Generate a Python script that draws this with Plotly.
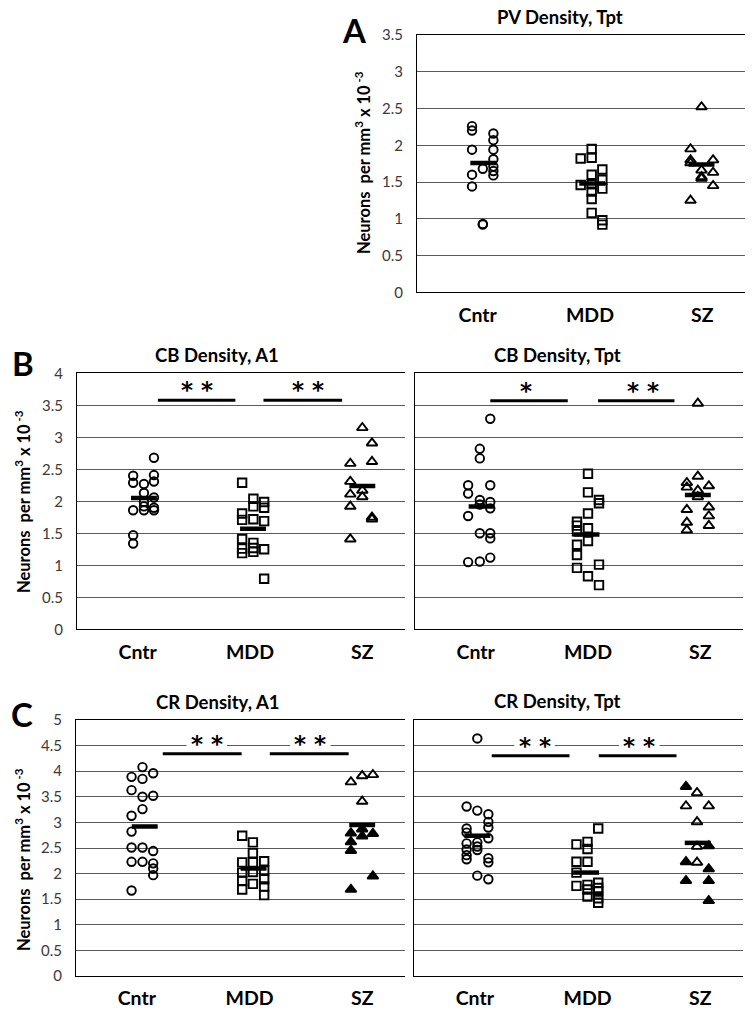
import plotly.graph_objects as go

categories = ["Cntr", "MDD", "SZ"]

# ---------------- Panel A : PV density, Tpt ----------------
pv_tpt_cntr = [2.26, 2.20, 1.94, 1.60, 1.44, 2.16, 2.07, 1.94, 1.81, 1.71, 1.65, 1.59, 1.68, 0.93, 0.92]
pv_tpt_cntr_jit = [-0.05, -0.05, -0.05, -0.05, -0.05, 0.14, 0.14, 0.14, 0.14, 0.14, 0.14, 0.14, 0.046, 0.046, 0.046]
pv_tpt_mdd = [1.82, 1.46, 1.95, 1.83, 1.60, 1.47, 1.37, 1.27, 1.08, 1.67, 1.53, 1.41, 0.98, 0.92]
pv_tpt_mdd_jit = [-0.083, -0.083, 0.015, 0.015, 0.015, 0.015, 0.015, 0.015, 0.015, 0.11, 0.11, 0.11, 0.11, 0.11]
pv_tpt_sz = [1.95, 1.80, 1.76, 1.25, 2.52, 1.66, 1.57, 1.55, 1.80, 1.63, 1.45]
pv_tpt_sz_jit = [-0.105, -0.105, -0.105, -0.105, -0.007, -0.007, -0.007, -0.007, 0.096, 0.096, 0.096]
pv_tpt_means = [1.76, 1.48, 1.74]
pv_tpt_means_jit = [0.05, 0.02, -0.007]

# ---------------- Panel B : CB density, A1 ----------------
cb_a1_cntr = [2.40, 2.29, 1.86, 1.47, 1.34, 2.27, 2.13, 1.99, 1.92, 1.86, 2.68, 2.41, 2.31, 2.06, 1.90, 1.86]
cb_a1_cntr_jit = [-0.04, -0.04, -0.04, -0.04, -0.04, 0.056, 0.056, 0.056, 0.056, 0.056, 0.145, 0.145, 0.145, 0.145, 0.145, 0.145]
cb_a1_mdd = [2.29, 1.81, 1.71, 1.41, 1.26, 1.19, 2.04, 1.92, 1.72, 1.35, 1.27, 1.21, 1.99, 1.90, 1.69, 1.25, 0.79]
cb_a1_mdd_jit = [-0.07, -0.07, -0.07, -0.07, -0.07, -0.07, 0.03, 0.03, 0.03, 0.03, 0.03, 0.03, 0.126, 0.126, 0.126, 0.126, 0.126]
cb_a1_sz = [2.59, 2.31, 2.11, 1.92, 1.41, 3.15, 2.17, 2.07, 2.91, 2.62, 1.75, 1.72]
cb_a1_sz_jit = [-0.107, -0.107, -0.107, -0.107, -0.107, 0.0, 0.0, 0.0, 0.086, 0.086, 0.086, 0.086]
cb_a1_means = [2.05, 1.57, 2.24]
cb_a1_means_jit = [0.056, 0.027, 0.0]

# ---------------- Panel B : CB density, Tpt ----------------
cb_tpt_cntr = [2.25, 2.12, 1.77, 1.05, 2.82, 2.67, 2.02, 1.95, 1.50, 1.06, 3.29, 2.25, 1.99, 1.89, 1.50, 1.42, 1.12]
cb_tpt_cntr_jit = [-0.067, -0.067, -0.067, -0.067, 0.037, 0.037, 0.037, 0.037, 0.037, 0.037, 0.13, 0.13, 0.13, 0.13, 0.13, 0.13, 0.13]
cb_tpt_mdd = [1.68, 1.62, 1.53, 1.32, 1.16, 0.96, 2.43, 2.14, 1.81, 1.58, 1.38, 0.83, 2.02, 1.97, 1.01, 0.69]
cb_tpt_mdd_jit = [-0.098, -0.098, -0.098, -0.098, -0.098, -0.098, 0.0, 0.0, 0.0, 0.0, 0.0, 0.0, 0.098, 0.098, 0.098, 0.098]
cb_tpt_sz = [2.29, 2.22, 1.87, 1.67, 1.55, 3.53, 2.39, 2.17, 2.07, 2.24, 1.91, 1.77, 1.62]
cb_tpt_sz_jit = [-0.12, -0.12, -0.12, -0.12, -0.12, -0.022, -0.022, -0.022, -0.022, 0.076, 0.076, 0.076, 0.076]
cb_tpt_means = [1.92, 1.48, 2.10]
cb_tpt_means_jit = [0.053, -0.013, -0.022]

# ---------------- Panel C : CR density, A1 ----------------
cr_a1_cntr = [3.89, 3.63, 3.13, 2.82, 2.51, 2.23, 1.67, 4.08, 3.85, 3.50, 3.26, 2.51, 2.23, 3.96, 3.52, 2.44, 2.20, 2.10, 1.97]
cr_a1_cntr_jit = [-0.047, -0.047, -0.047, -0.047, -0.047, -0.047, -0.047, 0.05, 0.05, 0.05, 0.05, 0.05, 0.05, 0.145, 0.145, 0.145, 0.145, 0.145, 0.145]
cr_a1_mdd = [2.74, 2.22, 2.02, 1.86, 1.69, 2.61, 2.40, 2.22, 2.03, 1.80, 2.24, 2.06, 1.89, 1.75, 1.58]
cr_a1_mdd_jit = [-0.065, -0.065, -0.065, -0.065, -0.065, 0.03, 0.03, 0.03, 0.03, 0.03, 0.13, 0.13, 0.13, 0.13, 0.13]
cr_a1_sz_open = [3.79, 3.91, 3.41, 3.93]
cr_a1_sz_open_jit = [-0.10, 0.0, 0.0, 0.095]
cr_a1_sz_filled = [2.79, 2.62, 2.45, 1.69, 2.87, 2.73, 2.78, 1.95]
cr_a1_sz_filled_jit = [-0.10, -0.10, -0.10, -0.10, 0.0, 0.0, 0.095, 0.095]
cr_a1_means = [2.92, 2.10, 2.95]
cr_a1_means_jit = [0.07, 0.036, 0.0]

# ---------------- Panel C : CR density, Tpt ----------------
cr_tpt_cntr = [3.31, 2.88, 2.80, 2.59, 2.47, 2.36, 2.28, 4.64, 3.23, 2.61, 2.53, 2.46, 1.96, 3.16, 3.01, 2.90, 2.69, 2.30, 2.22, 1.89]
cr_tpt_cntr_jit = [-0.073, -0.073, -0.073, -0.073, -0.073, -0.073, -0.073, 0.022, 0.022, 0.022, 0.022, 0.022, 0.022, 0.12, 0.12, 0.12, 0.12, 0.12, 0.12, 0.12]
cr_tpt_mdd = [2.57, 2.23, 2.02, 1.76, 2.62, 2.48, 2.23, 1.78, 1.69, 1.55, 2.88, 1.82, 1.72, 1.65, 1.52, 1.43]
cr_tpt_mdd_jit = [-0.098, -0.098, -0.098, -0.098, 0.0, 0.0, 0.0, 0.0, 0.0, 0.0, 0.095, 0.095, 0.095, 0.095, 0.095, 0.095]
cr_tpt_sz_open = [3.32, 3.58, 3.01, 2.53, 2.22, 3.32]
cr_tpt_sz_open_jit = [-0.126, -0.028, -0.028, -0.028, -0.028, 0.076]
cr_tpt_sz_filled = [3.70, 2.23, 1.86, 2.54, 2.09, 1.86, 1.47]
cr_tpt_sz_filled_jit = [-0.126, -0.126, -0.126, 0.076, 0.076, 0.076, 0.076]
cr_tpt_means = [2.74, 2.02, 2.60]
cr_tpt_means_jit = [0.022, -0.013, -0.022]

# significance bars: (x_start, x_end, y, label_x, label)
sig_cb_a1 = [(0.18, 0.87, 3.58, 0.53, "* *"), (1.12, 1.82, 3.58, 1.52, "* *")]
sig_cb_tpt = [(0.13, 0.82, 3.57, 0.45, "*"), (1.09, 1.77, 3.57, 1.49, "* *")]
sig_cr_a1 = [(0.23, 0.93, 4.34, 0.62, "* *"), (1.18, 1.88, 4.34, 1.54, "* *")]
sig_cr_tpt = [(0.15, 0.84, 4.30, 0.53, "* *"), (1.10, 1.79, 4.30, 1.46, "* *")]

# ---------------------------------------------------------------
W, H = 755, 1016
FONT = "Lato"


def px(x):
    return x / W


def py(y):
    return 1 - y / H


panels = [
    dict(title="PV Density, Tpt", tpos=(560, 17), xd=(417, 745), yd=(35, 292.3), ymax=3.5, ylab=True,
         groups=[(0, pv_tpt_cntr, pv_tpt_cntr_jit, "circle-open"),
                 (1, pv_tpt_mdd, pv_tpt_mdd_jit, "square-open"),
                 (2, pv_tpt_sz, pv_tpt_sz_jit, "triangle-up-open")],
         means=pv_tpt_means, mjit=pv_tpt_means_jit, sig=[], sig_bg=False),
    dict(title="CB Density, A1", tpos=(217, 355), xd=(77, 405), yd=(373.3, 629.3), ymax=4, ylab=True,
         groups=[(0, cb_a1_cntr, cb_a1_cntr_jit, "circle-open"),
                 (1, cb_a1_mdd, cb_a1_mdd_jit, "square-open"),
                 (2, cb_a1_sz, cb_a1_sz_jit, "triangle-up-open")],
         means=cb_a1_means, mjit=cb_a1_means_jit, sig=sig_cb_a1, sig_bg=False),
    dict(title="CB Density, Tpt", tpos=(557, 355), xd=(415, 743), yd=(373.3, 629.3), ymax=4, ylab=False,
         groups=[(0, cb_tpt_cntr, cb_tpt_cntr_jit, "circle-open"),
                 (1, cb_tpt_mdd, cb_tpt_mdd_jit, "square-open"),
                 (2, cb_tpt_sz, cb_tpt_sz_jit, "triangle-up-open")],
         means=cb_tpt_means, mjit=cb_tpt_means_jit, sig=sig_cb_tpt, sig_bg=False),
    dict(title="CR Density, A1", tpos=(217, 702), xd=(76, 405), yd=(720, 976), ymax=5, ylab=True,
         groups=[(0, cr_a1_cntr, cr_a1_cntr_jit, "circle-open"),
                 (1, cr_a1_mdd, cr_a1_mdd_jit, "square-open"),
                 (2, cr_a1_sz_open, cr_a1_sz_open_jit, "triangle-up-open"),
                 (2, cr_a1_sz_filled, cr_a1_sz_filled_jit, "triangle-up")],
         means=cr_a1_means, mjit=cr_a1_means_jit, sig=sig_cr_a1, sig_bg=True),
    dict(title="CR Density, Tpt", tpos=(557, 701), xd=(414, 743), yd=(720, 976), ymax=5, ylab=False,
         groups=[(0, cr_tpt_cntr, cr_tpt_cntr_jit, "circle-open"),
                 (1, cr_tpt_mdd, cr_tpt_mdd_jit, "square-open"),
                 (2, cr_tpt_sz_open, cr_tpt_sz_open_jit, "triangle-up-open"),
                 (2, cr_tpt_sz_filled, cr_tpt_sz_filled_jit, "triangle-up")],
         means=cr_tpt_means, mjit=cr_tpt_means_jit, sig=sig_cr_tpt, sig_bg=True),
]

fig = go.Figure()
annotations = []
shapes = []
layout_axes = {}

for i, p in enumerate(panels):
    n = "" if i == 0 else str(i + 1)
    xa, ya = "x" + n, "y" + n
    for cat, vals, jit, sym in p["groups"]:
        size = 9.5 if sym.startswith("triangle") else 8.5
        fig.add_trace(go.Scatter(
            x=[cat + j for j in jit], y=vals, mode="markers", xaxis=xa, yaxis=ya,
            marker=dict(symbol=sym, size=size, color="black",
                        line=dict(color="black", width=1.9)),
            showlegend=False, hoverinfo="skip"))
    fig.add_trace(go.Scatter(
        x=[k + j for k, j in zip(range(3), p["mjit"])], y=p["means"], mode="markers",
        xaxis=xa, yaxis=ya,
        marker=dict(symbol="line-ew", size=18.5, color="black",
                    line=dict(color="black", width=4.5)),
        showlegend=False, hoverinfo="skip"))

    layout_axes["xaxis" + n] = dict(
        domain=[px(p["xd"][0]), px(p["xd"][1])], range=[-0.54, 2.38], anchor=ya,
        tickvals=[0, 1, 2], ticktext=categories, showgrid=False, zeroline=False,
        showline=True, linecolor="black", linewidth=1, mirror=True, ticks="",
        tickfont=dict(family=FONT, size=19.5, color="black", weight="bold"),
        ticklabelstandoff=5, fixedrange=True, automargin=False)
    layout_axes["yaxis" + n] = dict(
        domain=[py(p["yd"][1]), py(p["yd"][0])], range=[0, p["ymax"]], anchor=xa,
        dtick=0.5, tick0=0, showgrid=True, gridcolor="#5a5a5a", gridwidth=1,
        zeroline=False, showline=True, linecolor="black", linewidth=1, ticks="",
        showticklabels=p["ylab"], ticklabelstandoff=10,
        tickfont=dict(family=FONT, size=15, color="#3a3a3a"), fixedrange=True,
        automargin=False)

    annotations.append(dict(
        text="<b>" + p["title"] + "</b>", x=px(p["tpos"][0]), y=py(p["tpos"][1]),
        xref="paper", yref="paper", showarrow=False, xanchor="center", yanchor="middle",
        font=dict(family=FONT, size=18.5, color="black")))

    for x0, x1, yl, xt, lab in p["sig"]:
        shapes.append(dict(type="line", xref=xa, yref=ya, x0=x0, x1=x1, y0=yl, y1=yl,
                           line=dict(color="black", width=3)))
        if p["sig_bg"]:
            half = 0.18 if lab == "* *" else 0.08
            shapes.append(dict(type="rect", xref=xa, yref=ya, x0=xt - half, x1=xt + half,
                               y0=p["ymax"] * 0.894, y1=p["ymax"] * 0.906,
                               fillcolor="white", line=dict(width=0)))
        ty = yl + p["ymax"] * 0.04
        annotations.append(dict(
            text="<b>" + lab + "</b>", x=xt, y=ty, xref=xa, yref=ya, showarrow=False,
            xanchor="center", yanchor="middle",
            font=dict(family="DejaVu Sans", size=23, color="black")))

# y-axis titles
ytitle = "<b>Neurons  per mm<sup>3</sup> x 10<sup> -3</sup></b>"
for (xx, yy) in [(363, 163), (23, 502), (23, 860)]:
    annotations.append(dict(text=ytitle, x=px(xx), y=py(yy), xref="paper", yref="paper",
                            showarrow=False, textangle=-90, xanchor="center", yanchor="middle",
                            font=dict(family=FONT, size=16.5, color="black")))

# panel letters
for lab, (xx, yy) in [("A", (354, 30)), ("B", (23, 363)), ("C", (22, 714))]:
    annotations.append(dict(text="<b>" + lab + "</b>", x=px(xx), y=py(yy), xref="paper", yref="paper",
                            showarrow=False, xanchor="center", yanchor="middle",
                            font=dict(family=FONT, size=33, color="black")))

fig.update_layout(
    width=W, height=H, margin=dict(l=0, r=0, t=0, b=0, pad=0, autoexpand=False),
    paper_bgcolor="white", plot_bgcolor="white",
    annotations=annotations, shapes=shapes, **layout_axes)

fig.write_html("out.html", config={"displayModeBar": False},
               post_script="document.body.style.margin='0';")
